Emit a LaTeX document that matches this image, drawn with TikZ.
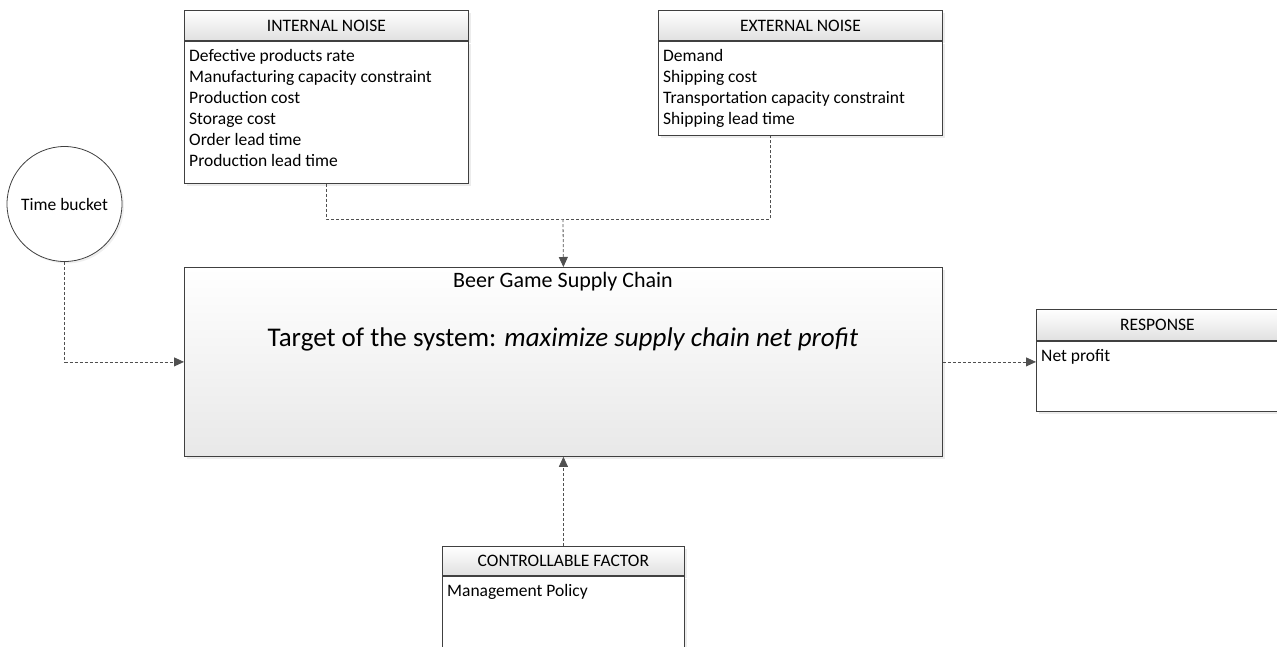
\documentclass[tikz,border=0pt]{standalone}
\usepackage{fontspec}
\setmainfont{Carlito}
\usetikzlibrary{arrows.meta,shadows}
\definecolor{edge}{HTML}{404040}
\definecolor{lnk}{HTML}{505050}
\begin{document}
\begin{tikzpicture}[x=1pt,y=-1pt,
  box/.style={draw=edge, line width=0.8pt, fill=white, rectangle, inner sep=0pt, anchor=north west,
    drop shadow={shadow xshift=3pt,shadow yshift=-3pt,fill=black!15}},
  hdr/.style={box, top color=white, bottom color=black!12, font=\fontsize{17.5}{20}\selectfont},
  lst/.style={anchor=north west, inner sep=0pt, align=left, font=\fontsize{17.5}{21}\selectfont},
  link/.style={draw=lnk, line width=0.8pt, dash pattern=on 3pt off 2pt},
  arr/.style={link, -{Triangle[length=10pt,width=9pt]}}
]
\useasboundingbox (0,0) rectangle (1277,646);
\clip (0,0) rectangle (1277,646);

% Internal noise
\node[hdr, minimum width=284pt, minimum height=30pt] (inH) at (184,10) {INTERNAL NOISE};
\node[box, minimum width=284pt, minimum height=142pt] (inB) at (inH.south west) {};
\node[lst] (inT) at ([xshift=5pt,yshift=-8pt]inB.north west)
  {Defective products rate\\Manufacturing capacity constraint\\Production cost\\Storage cost\\Order lead time\\Production lead time};

% External noise
\node[hdr, minimum width=284pt, minimum height=30pt] (exH) at (658,10) {EXTERNAL NOISE};
\node[box, minimum width=284pt, minimum height=94pt] (exB) at (exH.south west) {};
\node[lst] (exT) at ([xshift=5pt,yshift=-8pt]exB.north west)
  {Demand\\Shipping cost\\Transportation capacity constraint\\Shipping lead time};

% Time bucket
\node[circle, draw=edge, line width=0.8pt, fill=white, minimum size=115pt, inner sep=0pt,
  drop shadow={shadow xshift=2pt,shadow yshift=-2pt,fill=black!12},
  font=\fontsize{17.5}{20}\selectfont] (tb) at (64.5,204) {Time bucket};

% Main box
\node[box, top color=white, bottom color=black!9, minimum width=758pt, minimum height=189pt] (main) at (184,267) {};
\node[font=\fontsize{22}{26}\selectfont, inner sep=0pt] (mainT) at (563,282) {Beer Game Supply Chain};
\node[font=\fontsize{27}{32}\selectfont, inner sep=0pt] (mainG) at (563,339) {Target of the system: \textit{maximize supply chain net profit}};

% Response
\node[hdr, minimum width=242pt, minimum height=31pt] (rsH) at (1036,309) {RESPONSE};
\node[box, minimum width=242pt, minimum height=70pt] (rsB) at (rsH.south west) {};
\node[lst] (rsT) at ([xshift=5pt,yshift=-8pt]rsB.north west) {Net profit};

% Controllable factor
\node[hdr, minimum width=242pt, minimum height=29pt] (cfH) at (442,546) {CONTROLLABLE FACTOR};
\node[box, minimum width=242pt, minimum height=72pt] (cfB) at (cfH.south west) {};
\node[lst] (cfT) at ([xshift=5pt,yshift=-8pt]cfB.north west) {Management Policy};

% Connectors
\coordinate (j) at (563,219);
\draw[link] (inB.south) |- (j) -| ([xshift=-30pt]exB.south);
\draw[arr] (j) -- (main.north);
\draw[arr] (tb.south) |- (main.west);
\draw[arr] (main.east) -- (main.east -| rsB.west);
\draw[arr] (cfH.north) -- (main.south);
\end{tikzpicture}
\end{document}
